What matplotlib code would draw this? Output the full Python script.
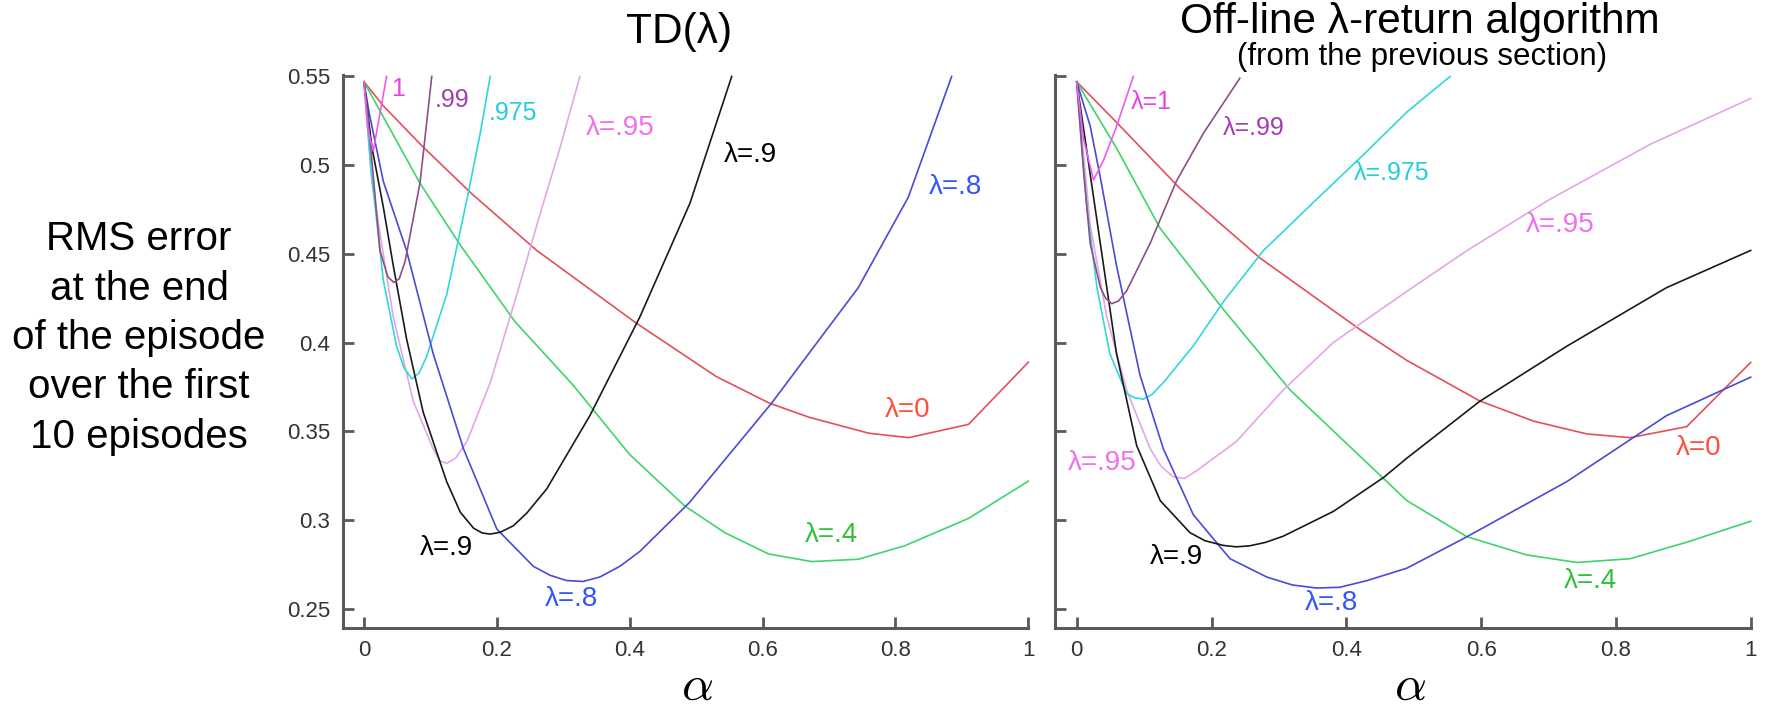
import matplotlib

matplotlib.use("Agg")

import matplotlib.pyplot as plt

plt.rcParams["font.family"] = ["Liberation Sans", "DejaVu Sans"]
plt.rcParams["mathtext.fontset"] = "cm"

# ---- TD(lambda), left panel: alpha vs RMS error ----
td_x_l0 = [0, 0.029, 0.087, 0.162, 0.26, 0.41, 0.49, 0.53, 0.61, 0.67, 0.76, 0.82, 0.91, 1.0]
td_y_l0 = [0.547, 0.5335, 0.511, 0.484, 0.452, 0.411, 0.391, 0.381, 0.366, 0.358, 0.349, 0.3465, 0.354, 0.389]

td_x_l4 = [0, 0.084, 0.145, 0.227, 0.315, 0.4, 0.483, 0.543, 0.609, 0.674, 0.744, 0.814, 0.91, 1.0]
td_y_l4 = [0.547, 0.49, 0.455, 0.412, 0.376, 0.337, 0.308, 0.293, 0.281, 0.2767, 0.278, 0.2856, 0.301, 0.322]

td_x_l8 = [0, 0.0075, 0.029, 0.064, 0.104, 0.15, 0.2, 0.255, 0.28, 0.305, 0.33, 0.355, 0.385,
           0.4155, 0.49, 0.6137, 0.744, 0.8194, 0.8846]
td_y_l8 = [0.547, 0.53, 0.491, 0.452, 0.394, 0.34, 0.295, 0.274, 0.269, 0.266, 0.2655, 0.268, 0.274,
           0.2825, 0.31, 0.366, 0.431, 0.482, 0.55]

td_x_l9 = [0, 0.012, 0.029, 0.044, 0.064, 0.089, 0.1245, 0.145, 0.165, 0.178, 0.19, 0.205, 0.225,
           0.245, 0.275, 0.34, 0.4155, 0.4908, 0.5535]
td_y_l9 = [0.547, 0.51, 0.4766, 0.4436, 0.4023, 0.361, 0.3217, 0.3045, 0.2955, 0.2928, 0.2922, 0.2932,
           0.2969, 0.304, 0.3176, 0.3589, 0.4147, 0.4787, 0.55]

td_x_l95 = [0, 0.012, 0.044, 0.074, 0.104, 0.114, 0.1245, 0.138, 0.155, 0.19, 0.23, 0.265, 0.295, 0.325]
td_y_l95 = [0.547, 0.49, 0.4147, 0.3672, 0.3403, 0.3335, 0.332, 0.335, 0.3444, 0.3775, 0.4271, 0.4725,
            0.5097, 0.55]

td_x_l975 = [0, 0.01, 0.029, 0.049, 0.06, 0.072, 0.083, 0.094, 0.1245, 0.155, 0.175, 0.19]
td_y_l975 = [0.547, 0.5, 0.4353, 0.3982, 0.386, 0.3796, 0.383, 0.392, 0.4271, 0.4808, 0.518, 0.55]

td_x_l99 = [0, 0.006, 0.024, 0.036, 0.045, 0.053, 0.062, 0.0843, 0.102]
td_y_l99 = [0.547, 0.527, 0.452, 0.437, 0.434, 0.436, 0.446, 0.49, 0.55]

td_x_l1 = [0, 0.006, 0.014, 0.022, 0.034]
td_y_l1 = [0.547, 0.52, 0.508, 0.525, 0.55]

# ---- Off-line lambda-return, right panel ----
lr_x_l0 = [0, 0.059, 0.153, 0.272, 0.42, 0.49, 0.598, 0.678, 0.757, 0.821, 0.905, 1.0]
lr_y_l0 = [0.547, 0.5242, 0.487, 0.4477, 0.4075, 0.39, 0.3672, 0.3558, 0.3486, 0.3465, 0.3527, 0.3889]

lr_x_l4 = [0, 0.059, 0.124, 0.2175, 0.3165, 0.49, 0.579, 0.668, 0.742, 0.821, 0.905, 1.0]
lr_y_l4 = [0.547, 0.5097, 0.4643, 0.4188, 0.3734, 0.311, 0.2907, 0.2804, 0.2762, 0.2783, 0.2876, 0.2994]

lr_x_l8 = [0, 0.02, 0.035, 0.059, 0.094, 0.1285, 0.173, 0.2275, 0.282, 0.32, 0.356, 0.39, 0.43, 0.49,
           0.579, 0.727, 0.875, 1.0]
lr_y_l8 = [0.547, 0.5221, 0.4932, 0.4436, 0.3816, 0.3403, 0.3031, 0.2783, 0.268, 0.2635, 0.2618, 0.2622,
           0.2659, 0.273, 0.2907, 0.3217, 0.3589, 0.3806]

lr_x_l9 = [0, 0.015, 0.035, 0.059, 0.089, 0.124, 0.168, 0.19, 0.2175, 0.237, 0.257, 0.28, 0.3065, 0.381,
           0.455, 0.49, 0.598, 0.727, 0.875, 1.0]
lr_y_l9 = [0.547, 0.508, 0.456, 0.394, 0.342, 0.311, 0.293, 0.2885, 0.2858, 0.285, 0.2856, 0.2875, 0.291,
           0.305, 0.324, 0.335, 0.367, 0.398, 0.431, 0.452]

lr_x_l95 = [0, 0.02, 0.0445, 0.074, 0.109, 0.125, 0.143, 0.16, 0.178, 0.237, 0.3065, 0.381, 0.49, 0.579,
            0.702, 0.851, 1.0]
lr_y_l95 = [0.547, 0.4663, 0.4147, 0.3734, 0.3403, 0.3305, 0.3245, 0.3235, 0.3279, 0.3444, 0.3734, 0.4002,
            0.429, 0.4519, 0.4808, 0.5118, 0.5376]

lr_x_l975 = [0, 0.015, 0.03, 0.049, 0.074, 0.086, 0.099, 0.112, 0.1285, 0.173, 0.2175, 0.277, 0.356, 0.43,
             0.49, 0.554]
lr_y_l975 = [0.547, 0.4766, 0.4312, 0.394, 0.3713, 0.369, 0.3682, 0.371, 0.3775, 0.3982, 0.423, 0.4519,
             0.4808, 0.5076, 0.53, 0.55]

lr_x_l99 = [0, 0.01, 0.02, 0.035, 0.043, 0.052, 0.062, 0.074, 0.109, 0.148, 0.188, 0.242]
lr_y_l99 = [0.547, 0.4973, 0.456, 0.4312, 0.425, 0.422, 0.4235, 0.4292, 0.456, 0.4911, 0.518, 0.549]

lr_x_l1 = [0, 0.01, 0.025, 0.04, 0.059, 0.084]
lr_y_l1 = [0.547, 0.515, 0.4917, 0.503, 0.5217, 0.55]

y_ticks = [0.25, 0.3, 0.35, 0.4, 0.45, 0.5, 0.55]
y_tick_labels = ["0.25", "0.3", "0.35", "0.4", "0.45", "0.5", "0.55"]
x_ticks = [0, 0.2, 0.4, 0.6, 0.8, 1.0]
x_tick_labels = ["0", "0.2", "0.4", "0.6", "0.8", "1"]

# line colour / label colour per lambda
C_L0 = ("#e2505a", "#ff4f3a")
C_L4 = ("#3fd46a", "#2fc23a")
C_L8 = ("#4a4ad6", "#3355ff")
C_L9 = ("#1a1a1a", "#000000")
C_L95 = ("#e4a6e6", "#ee70ee")
C_L975 = ("#30d8d8", "#22d0d8")
C_L99 = ("#8e4f86", "#a23cb0")
C_L1 = ("#ec5cec", "#ee3ee8")

W, H = 1771, 711
fig = plt.figure(figsize=(W / 100, H / 100), dpi=100)
ax_l = fig.add_axes([343 / W, 1 - 627.6 / H, (1028.3 - 343) / W, (627.6 - 74.7) / H])
ax_r = fig.add_axes([1055 / W, 1 - 627.6 / H, (1750.7 - 1055) / W, (627.6 - 74.7) / H])


def style_axes(ax, xmin, show_ylabels):
    ax.set_xlim(xmin, 1.0)
    ax.set_ylim(0.2395, 0.551)
    for side in ("top", "right"):
        ax.spines[side].set_visible(False)
    for side in ("left", "bottom"):
        ax.spines[side].set_color("#5a5a5a")
        ax.spines[side].set_linewidth(2.2)
    ax.set_xticks(x_ticks)
    ax.set_xticklabels(x_tick_labels)
    ax.set_yticks(y_ticks)
    ax.set_yticklabels(y_tick_labels if show_ylabels else [])
    ax.tick_params(direction="in", length=8, width=2, color="#5a5a5a",
                   labelsize=16, labelcolor="#333333")
    ax.tick_params(axis="y", pad=9)
    ax.tick_params(axis="x", pad=9)


def draw(ax, x, y, colors, lw=1.2):
    ax.plot(x, y, color=colors[0], linewidth=lw, solid_joinstyle="round", clip_on=False)


style_axes(ax_l, -0.0316, True)
style_axes(ax_r, -0.0322, False)

for x, y, c in [(td_x_l0, td_y_l0, C_L0), (td_x_l4, td_y_l4, C_L4), (td_x_l95, td_y_l95, C_L95),
                (td_x_l975, td_y_l975, C_L975), (td_x_l8, td_y_l8, C_L8), (td_x_l9, td_y_l9, C_L9),
                (td_x_l99, td_y_l99, C_L99), (td_x_l1, td_y_l1, C_L1)]:
    draw(ax_l, x, y, c)

for x, y, c in [(lr_x_l0, lr_y_l0, C_L0), (lr_x_l4, lr_y_l4, C_L4), (lr_x_l95, lr_y_l95, C_L95),
                (lr_x_l975, lr_y_l975, C_L975), (lr_x_l8, lr_y_l8, C_L8), (lr_x_l9, lr_y_l9, C_L9),
                (lr_x_l99, lr_y_l99, C_L99), (lr_x_l1, lr_y_l1, C_L1)]:
    draw(ax_r, x, y, c)

# curve labels, left panel
small = 18
big = 20
ax_l.text(0.0517, 0.5428, "1", color=C_L1[1], fontsize=small, ha="center", va="center")
ax_l.text(0.132, 0.5366, ".99", color=C_L99[1], fontsize=small, ha="center", va="center")
ax_l.text(0.2248, 0.5293, ".975", color=C_L975[1], fontsize=small, ha="center", va="center")
ax_l.text(0.3854, 0.5211, "λ=.95", color=C_L95[1], fontsize=big, ha="center", va="center")
ax_l.text(0.581, 0.506, "λ=.9", color=C_L9[1], fontsize=big, ha="center", va="center")
ax_l.text(0.8896, 0.488, "λ=.8", color=C_L8[1], fontsize=big, ha="center", va="center")
ax_l.text(0.8185, 0.362, "λ=0", color=C_L0[1], fontsize=big, ha="center", va="center")
ax_l.text(0.703, 0.2917, "λ=.4", color=C_L4[1], fontsize=big, ha="center", va="center")
ax_l.text(0.1245, 0.2845, "λ=.9", color=C_L9[1], fontsize=big, ha="center", va="center")
ax_l.text(0.3127, 0.2556, "λ=.8", color=C_L8[1], fontsize=big, ha="center", va="center")

# curve labels, right panel
ax_r.text(0.1113, 0.5355, "λ=1", color=C_L1[1], fontsize=small, ha="center", va="center")
ax_r.text(0.262, 0.5211, "λ=.99", color=C_L99[1], fontsize=small, ha="center", va="center")
ax_r.text(0.4673, 0.4957, "λ=.975", color=C_L975[1], fontsize=small, ha="center", va="center")
ax_r.text(0.717, 0.4661, "λ=.95", color=C_L95[1], fontsize=big, ha="center", va="center")
ax_r.text(0.0371, 0.332, "λ=.95", color=C_L95[1], fontsize=big, ha="center", va="center")
ax_r.text(0.1487, 0.2793, "λ=.9", color=C_L9[1], fontsize=big, ha="center", va="center")
ax_r.text(0.3783, 0.2535, "λ=.8", color=C_L8[1], fontsize=big, ha="center", va="center")
ax_r.text(0.9223, 0.3407, "λ=0", color=C_L0[1], fontsize=big, ha="center", va="center")
ax_r.text(0.7616, 0.2659, "λ=.4", color=C_L4[1], fontsize=big, ha="center", va="center")

# titles and axis labels
fig.text(679 / W, 1 - 43 / H, "TD(λ)", fontsize=30.5, ha="center", va="baseline")
fig.text(1420 / W, 1 - 33 / H, "Off-line λ-return algorithm", fontsize=30.5, ha="center", va="baseline")
fig.text(1422 / W, 1 - 65 / H, "(from the previous section)", fontsize=22.5, ha="center", va="baseline")
fig.text(139 / W, 1 - 338 / H, "RMS error\nat the end\nof the episode\nover the first\n10 episodes",
         fontsize=29, ha="center", va="center", linespacing=1.38)
fig.text(697 / W, 1 - 700 / H, r"$\alpha$", fontsize=36, ha="center", va="baseline")
fig.text(1410 / W, 1 - 700 / H, r"$\alpha$", fontsize=36, ha="center", va="baseline")

fig.savefig("out.png", dpi=100, facecolor="white")
